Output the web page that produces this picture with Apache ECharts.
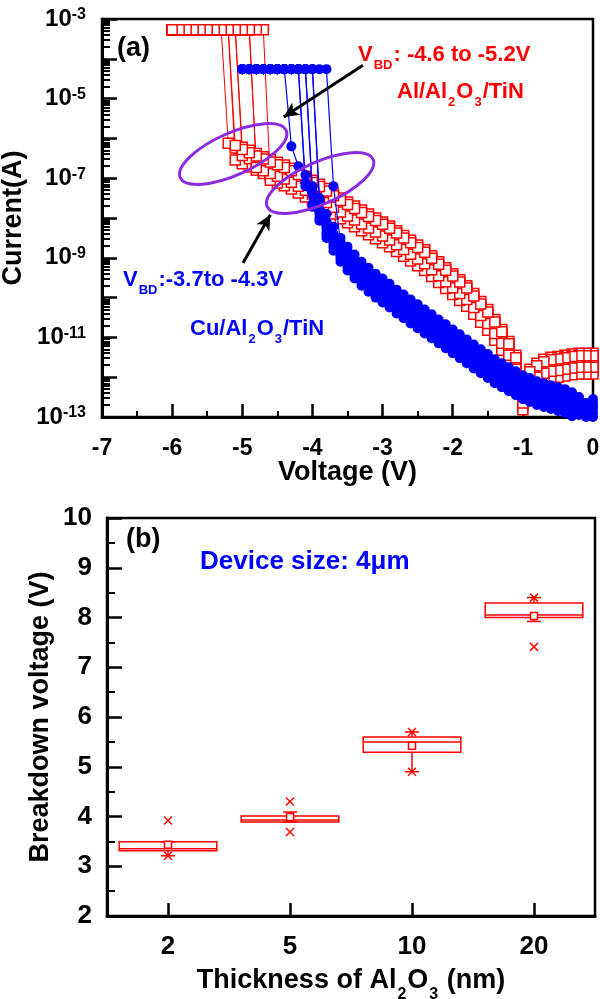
<!DOCTYPE html>
<html>
<head>
<meta charset="utf-8">
<script src="https://cdn.jsdelivr.net/npm/echarts@6.0.0/dist/echarts.min.js"></script>
<style>
html,body{margin:0;padding:0;background:#fff;}
#chart{width:600px;height:999px;}
</style>
</head>
<body>
<div id="chart"></div>
<script>
// ---------------- data ----------------
// (a) I-V sweeps: [voltage (V), log10(current / A)]
const redBase = [
  [0,-11.7],[-0.1,-11.7],[-0.2,-11.7],[-0.3,-11.72],[-0.4,-11.75],[-0.5,-11.78],[-0.6,-11.8],
  [-0.7,-11.85],[-0.8,-11.95],[-0.9,-12.1],[-1.0,-12.6],[-1.1,-11.75],[-1.2,-11.4],[-1.3,-11.1],
  [-1.4,-10.85],[-1.5,-10.6],[-1.6,-10.4],[-1.7,-10.2],[-1.8,-10.0],[-1.9,-9.85],[-2.0,-9.7],
  [-2.1,-9.55],[-2.2,-9.4],[-2.3,-9.25],[-2.4,-9.1],[-2.5,-8.98],[-2.6,-8.86],[-2.7,-8.74],
  [-2.8,-8.62],[-2.9,-8.5],[-3.0,-8.4],[-3.1,-8.3],[-3.2,-8.2],[-3.3,-8.1],[-3.4,-8.0],
  [-3.5,-7.9],[-3.6,-7.8],[-3.7,-7.68],[-3.8,-7.56],[-3.9,-7.45],[-4.0,-7.35],[-4.1,-7.25],
  [-4.2,-7.15],[-4.3,-7.05],[-4.4,-6.97],[-4.5,-6.9],[-4.6,-6.83],[-4.7,-6.76],[-4.8,-6.68],
  [-4.9,-6.6],[-5.0,-6.52],[-5.1,-6.42],[-5.2,-6.3]
];
const blueBase = [
  [0,-12.85],[-0.1,-12.95],[-0.2,-12.8],[-0.3,-12.68],[-0.4,-12.6],[-0.5,-12.55],[-0.6,-12.5],
  [-0.7,-12.45],[-0.8,-12.4],[-0.9,-12.32],[-1.0,-12.25],[-1.1,-12.15],[-1.2,-12.05],[-1.3,-11.95],
  [-1.4,-11.85],[-1.5,-11.72],[-1.6,-11.6],[-1.7,-11.48],[-1.8,-11.35],[-1.9,-11.22],[-2.0,-11.1],
  [-2.1,-10.97],[-2.2,-10.85],[-2.3,-10.72],[-2.4,-10.6],[-2.5,-10.47],[-2.6,-10.35],[-2.7,-10.22],
  [-2.8,-10.1],[-2.9,-9.95],[-3.0,-9.82],[-3.1,-9.7],[-3.2,-9.55],[-3.3,-9.4],[-3.4,-9.22],
  [-3.5,-9.02],[-3.6,-8.8],[-3.7,-8.52],[-3.8,-8.2],[-3.9,-7.85],[-4.0,-7.5],[-4.1,-7.22],[-4.2,-7.0]
];
const redBreakdownV = [-5.2, -5.1, -5.0, -4.8, -4.6, -5.0, -4.8, -5.1];
const redSweepShift = [0.18, -0.12, 0.3, 0.0, -0.22, 0.09, -0.05, 0.24];   // decades, per sweep
const redComplianceLogI = -3.27;
const redComplianceV = [-4.7,-4.8,-4.9,-5.0,-5.1,-5.2,-5.3,-5.4,-5.5,-5.6,-5.7,-5.8,-5.9,-6.0];

const blueBreakdownV = [-4.3, -4.1, -4.0, -3.9, -3.7, -4.0, -3.9, -4.1];
const blueBreakdownLogI = [-6.2, -7.1, -7.3, -7.5, -7.2, -7.4, -7.6, -7.2];
const blueSweepShift = [0.3, -0.15, 0.05, -0.3, 0.2, -0.05, 0.12, -0.22];
const blueComplianceLogI = -4.26;
const blueComplianceV = [-3.8,-3.9,-4.0,-4.1,-4.2,-4.3,-4.4,-4.5,-4.6,-4.7,-4.8,-4.9,-5.0];

const voltageTicks = [-7, -6, -5, -4, -3, -2, -1, 0];

// (b) breakdown voltage box statistics per Al2O3 thickness
const thickness = ['2', '5', '10', '20'];
const bvLow    = [3.21, 3.89, 4.90, 7.92];
const bvQ1     = [3.31, 3.89, 5.29, 8.00];
const bvMedian = [3.35, 3.93, 5.50, 8.05];
const bvQ3     = [3.49, 4.01, 5.60, 8.29];
const bvHigh   = [3.49, 4.09, 5.70, 8.40];
const bvMean   = [3.43, 3.99, 5.42, 8.03];
const bvP1     = [3.21, 3.69, 4.90, 7.41];
const bvP99    = [3.92, 4.30, 5.70, 8.40];

// annotation anchors in data space [V, log10 I]
const ellipseCenters = [[-5.13, -6.39], [-3.89, -7.12]];
const arrowLines = [
  [[-3.28, -4.16], [-4.41, -5.46]],
  [[-4.99, -9.13], [-4.60, -7.92]]
];

// ---------------- chart ----------------
const FONT = '"Liberation Sans", Arial, sans-serif';
const BLACK = '#000000', RED = '#ff0000', BLUE = '#0000ff', PURPLE = '#8a2be2';
const pw = e => Math.pow(10, e);

function buildSweep(base, bdV, shift, bdLogI, compV, compLogI) {
  const pts = [];
  base.forEach(p => {
    const keep = bdLogI == null ? p[0] >= bdV - 1e-9 : p[0] > bdV + 1e-9;
    if (keep) pts.push([p[0], pw(p[1] + shift)]);
  });
  if (bdLogI != null) pts.push([bdV, pw(bdLogI)]);
  compV.forEach(v => { if (v < bdV - 1e-9) pts.push([v, pw(compLogI)]); });
  return pts;
}

const series = [];
redBreakdownV.forEach((bd, i) => {
  series.push({
    type: 'line', xAxisIndex: 0, yAxisIndex: 0,
    data: buildSweep(redBase, bd, redSweepShift[i], null, redComplianceV, redComplianceLogI),
    symbol: 'rect', symbolSize: 10, showAllSymbol: true,
    itemStyle: {color: '#ffffff', borderColor: RED, borderWidth: 1.5},
    lineStyle: {color: RED, width: 1},
    emphasis: {disabled: true}, z: 2
  });
});
blueBreakdownV.forEach((bd, i) => {
  series.push({
    type: 'line', xAxisIndex: 0, yAxisIndex: 0,
    data: buildSweep(blueBase, bd, blueSweepShift[i], blueBreakdownLogI[i], blueComplianceV, blueComplianceLogI),
    symbol: 'circle', symbolSize: 10, showAllSymbol: true,
    itemStyle: {color: BLUE, borderWidth: 0},
    lineStyle: {color: BLUE, width: 1.2},
    emphasis: {disabled: true}, z: 3
  });
});
series[series.length - 1].markLine = {
  silent: true, symbol: ['none', 'arrow'], symbolSize: [11, 15], animation: false,
  lineStyle: {color: BLACK, width: 3, type: 'solid'}, label: {show: false},
  data: arrowLines.map(a => [{coord: [a[0][0], pw(a[0][1])]}, {coord: [a[1][0], pw(a[1][1])]}])
};

const boxData = thickness.map((t, i) =>
  [i, bvLow[i], bvQ1[i], bvMedian[i], bvQ3[i], bvHigh[i], bvMean[i], bvP1[i], bvP99[i]]);

function renderBox(params, api) {
  const idx = api.value(0);
  const Y = v => api.coord([idx, v])[1];
  const cx = api.coord([idx, api.value(3)])[0];
  const bw = api.size([1, 0])[0] * 0.8;
  const st = {stroke: RED, lineWidth: 1.5, fill: 'transparent'};
  const line = (x1, y1, x2, y2) => ({type: 'line', shape: {x1, y1, x2, y2}, style: st});
  const yLo = Y(api.value(1)), yQ1 = Y(api.value(2)), yMed = Y(api.value(3)), yQ3 = Y(api.value(4));
  const yHi = Y(api.value(5)), yMean = Y(api.value(6)), yP1 = Y(api.value(7)), yP99 = Y(api.value(8));
  const cross = y => [line(cx - 4, y - 4, cx + 4, y + 4), line(cx - 4, y + 4, cx + 4, y - 4)];
  const children = [
    {type: 'rect', shape: {x: cx - bw / 2, y: yQ3, width: bw, height: yQ1 - yQ3}, style: st},
    line(cx - bw / 2, yMed, cx + bw / 2, yMed),
    line(cx, yQ1, cx, yLo), line(cx, yQ3, cx, yHi),
    line(cx - 7, yLo, cx + 7, yLo), line(cx - 7, yHi, cx + 7, yHi),
    {type: 'rect', shape: {x: cx - 3.5, y: yMean - 3.5, width: 7, height: 7},
     style: {stroke: RED, lineWidth: 1.5, fill: '#ffffff'}}
  ].concat(cross(yP1), cross(yP99));
  return {type: 'group', children};
}
series.push({
  type: 'custom', xAxisIndex: 1, yAxisIndex: 2, data: boxData,
  renderItem: renderBox, encode: {x: 0, y: [1, 2, 3, 4, 5, 6, 7, 8]}, z: 3
});

const minorExp = [];
for (let n = -13; n < -3; n++) for (let k = 2; k <= 9; k++) minorExp.push(n + Math.log10(k));

const axLine = {show: true, onZero: false, lineStyle: {color: BLACK, width: 3}};
const tickStyle = {color: BLACK, width: 2.5};
const nameStyle = {fontSize: 27, fontWeight: 'bold', color: BLACK, fontFamily: FONT, lineHeight: 30};

const option = {
  animation: false,
  backgroundColor: '#ffffff',
  textStyle: {fontFamily: FONT},
  grid: [
    {left: 102, top: 19, width: 491, height: 398, show: true, borderColor: BLACK, borderWidth: 2.5,
     backgroundColor: 'transparent', containLabel: false, outerBoundsMode: 'none'},
    {left: 107, top: 518, width: 488, height: 398, show: true, borderColor: BLACK, borderWidth: 2.5,
     backgroundColor: 'transparent', containLabel: false, outerBoundsMode: 'none'}
  ],
  xAxis: [
    {
      gridIndex: 0, type: 'value', min: voltageTicks[0], max: voltageTicks[voltageTicks.length - 1], interval: 1,
      axisLine: axLine,
      axisTick: {show: true, inside: true, length: 13, lineStyle: tickStyle},
      minorTick: {show: true, splitNumber: 2, length: 6, lineStyle: {color: BLACK, width: 2}},
      splitLine: {show: false},
      axisLabel: {fontSize: 23, fontWeight: 'bold', color: BLACK, margin: 20, fontFamily: FONT,
                  formatter: v => String(v)},
      name: 'Voltage (V)', nameLocation: 'middle', nameGap: 41, nameMoveOverlap: false, nameTextStyle: nameStyle
    },
    {
      gridIndex: 1, type: 'category', data: thickness, boundaryGap: true,
      axisLine: axLine,
      axisTick: {show: true, inside: true, alignWithLabel: true, length: 13, lineStyle: tickStyle},
      splitLine: {show: false},
      axisLabel: {fontSize: 26, fontWeight: 'bold', color: BLACK, margin: 18, fontFamily: FONT},
      name: '{m|Thickness of Al}{s|2}{m|O}{s|3}{m| (nm)}', nameLocation: 'middle', nameGap: 51, nameMoveOverlap: false,
      nameTextStyle: {
        rich: {
          m: {fontSize: 27, fontWeight: 'bold', color: BLACK, fontFamily: FONT, lineHeight: 30, verticalAlign: 'top'},
          s: {fontSize: 16, fontWeight: 'bold', color: BLACK, fontFamily: FONT, lineHeight: 16, padding: [20, 1, 0, 1], verticalAlign: 'top'}
        }
      }
    }
  ],
  yAxis: [
    {
      gridIndex: 0, type: 'log', logBase: 10, min: 1e-13, max: 1e-3, interval: 1,
      axisLine: axLine,
      axisTick: {show: true, inside: true, length: 15, lineStyle: tickStyle},
      splitLine: {show: false},
      axisLabel: {
        margin: 16,
        formatter: v => { const e = Math.round(Math.log10(v)); return (e % 2 === 0) ? '' : '{b|10}{s|' + e + '}'; },
        rich: {
          b: {fontSize: 24, fontWeight: 'bold', color: BLACK, fontFamily: FONT, lineHeight: 24, verticalAlign: 'top'},
          s: {fontSize: 16, fontWeight: 'bold', color: BLACK, fontFamily: FONT, lineHeight: 10, verticalAlign: 'top'}
        }
      },
      name: 'Current(A)', nameLocation: 'middle', nameGap: 73, nameMoveOverlap: false, nameTextStyle: nameStyle
    },
    {
      gridIndex: 0, type: 'value', min: -13, max: -3, position: 'left', offset: 0,
      axisLine: {show: false, onZero: false},
      axisLabel: {show: false}, splitLine: {show: false},
      axisTick: {show: true, inside: true, length: 8, customValues: minorExp, lineStyle: {color: BLACK, width: 2}}
    },
    {
      gridIndex: 1, type: 'value', min: 2, max: 10, interval: 1,
      axisLine: axLine,
      axisTick: {show: true, inside: true, length: 15, lineStyle: tickStyle},
      minorTick: {show: true, splitNumber: 2, length: 8, lineStyle: {color: BLACK, width: 2}},
      splitLine: {show: false},
      axisLabel: {fontSize: 26, fontWeight: 'bold', color: BLACK, margin: 15, fontFamily: FONT},
      name: 'Breakdown voltage (V)', nameLocation: 'middle', nameGap: 51, nameMoveOverlap: false, nameTextStyle: nameStyle
    }
  ],
  series: series
};

const chart = echarts.init(document.getElementById('chart'), null, {renderer: 'canvas'});
chart.setOption(option);

const toPx = (v, e) => chart.convertToPixel({xAxisIndex: 0, yAxisIndex: 0}, [v, pw(e)]);
const mainStyle = (color, size) => ({fontSize: size, fontWeight: 'bold', fill: color, fontFamily: FONT, lineHeight: 24, verticalAlign: 'top'});
const subStyle = color => ({fontSize: 13, fontWeight: 'bold', fill: color, fontFamily: FONT, lineHeight: 13, padding: [15, 1, 0, 1], verticalAlign: 'top'});
const richText = (x, yCenter, text, color) => ({
  type: 'text', x: x, y: yCenter - 12, z: 120,
  style: {text: text, verticalAlign: 'top', align: 'left',
          rich: {m: mainStyle(color, 22), s: subStyle(color)}}
});

const graphics = [];
ellipseCenters.forEach(c => {
  const p = toPx(c[0], c[1]);
  graphics.push({type: 'ellipse', x: p[0], y: p[1], rotation: 0.42, z: 110,
                 shape: {cx: 0, cy: 0, rx: 58, ry: 21},
                 style: {fill: 'transparent', stroke: PURPLE, lineWidth: 3}});
});
graphics.push(
  richText(358, 55.5, '{m|V}{s|BD}{m|: -4.6 to -5.2V}', RED),
  richText(397, 92.5, '{m|Al/Al}{s|2}{m|O}{s|3}{m|/TiN}', RED),
  richText(123, 280.5, '{m|V}{s|BD}{m|:-3.7to -4.3V}', BLUE),
  richText(190, 329.5, '{m|Cu/Al}{s|2}{m|O}{s|3}{m|/TiN}', BLUE),
  {type: 'text', x: 117, y: 48.5, z: 120,
   style: {text: '(a)', fontSize: 27, fontWeight: 'bold', fontFamily: FONT, fill: BLACK, verticalAlign: 'middle'}},
  {type: 'text', x: 126, y: 540, z: 120,
   style: {text: '(b)', fontSize: 27, fontWeight: 'bold', fontFamily: FONT, fill: BLACK, verticalAlign: 'middle'}},
  {type: 'text', x: 200, y: 562, z: 120,
   style: {text: 'Device size: 4μm', fontSize: 26, fontWeight: 'bold', fontFamily: FONT, fill: BLUE, verticalAlign: 'middle'}}
);
chart.setOption({graphic: graphics});
</script>
</body>
</html>
